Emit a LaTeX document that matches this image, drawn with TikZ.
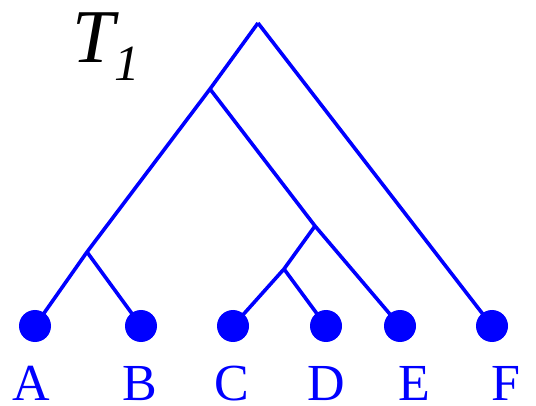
\documentclass[tikz,border=0pt]{standalone}
\usepackage{fontspec}
\setmainfont{Liberation Serif}
\begin{document}
\begin{tikzpicture}[x=0.75pt,y=-0.75pt,
  edge/.style={draw=blue,line width=2.7pt},
  leaf/.style={circle,fill=blue,minimum size=24pt,inner sep=0pt},
  lab/.style={text=blue,font=\fontsize{39}{39}\selectfont,anchor=base,inner sep=0pt}]
\useasboundingbox (0,0) rectangle (536,406);
\coordinate (r) at (258,23);
\coordinate (n1) at (210,89);
\coordinate (nab) at (87,252);
\coordinate (ncde) at (315,226);
\coordinate (ncd) at (284,269);
\node[leaf] (A) at (35,326) {};
\node[leaf] (B) at (141,326) {};
\node[leaf] (C) at (233,326) {};
\node[leaf] (D) at (326,326) {};
\node[leaf] (E) at (400,326) {};
\node[leaf] (F) at (492,326) {};
\draw[edge] (r) -- (n1) -- (nab) -- (A.center);
\draw[edge] (nab) -- (B.center);
\draw[edge] (n1) -- (ncde) -- (E.center);
\draw[edge] (ncde) -- (ncd) -- (C.center);
\draw[edge] (ncd) -- (D.center);
\draw[edge] (r) -- (F.center);
\node[lab] (lA) at (31,400) {A};
\node[lab] (lB) at (140,400) {B};
\node[lab] (lC) at (232,400) {C};
\node[lab] (lD) at (326,400) {D};
\node[lab] (lE) at (414,400) {E};
\node[lab] (lF) at (506,400) {F};
\node[anchor=base west,inner sep=0pt,font=\fontsize{57}{57}\selectfont\itshape] (title) at (72,63) {T\raisebox{-13pt}{\fontsize{38}{38}\selectfont 1}};
\end{tikzpicture}
\end{document}
